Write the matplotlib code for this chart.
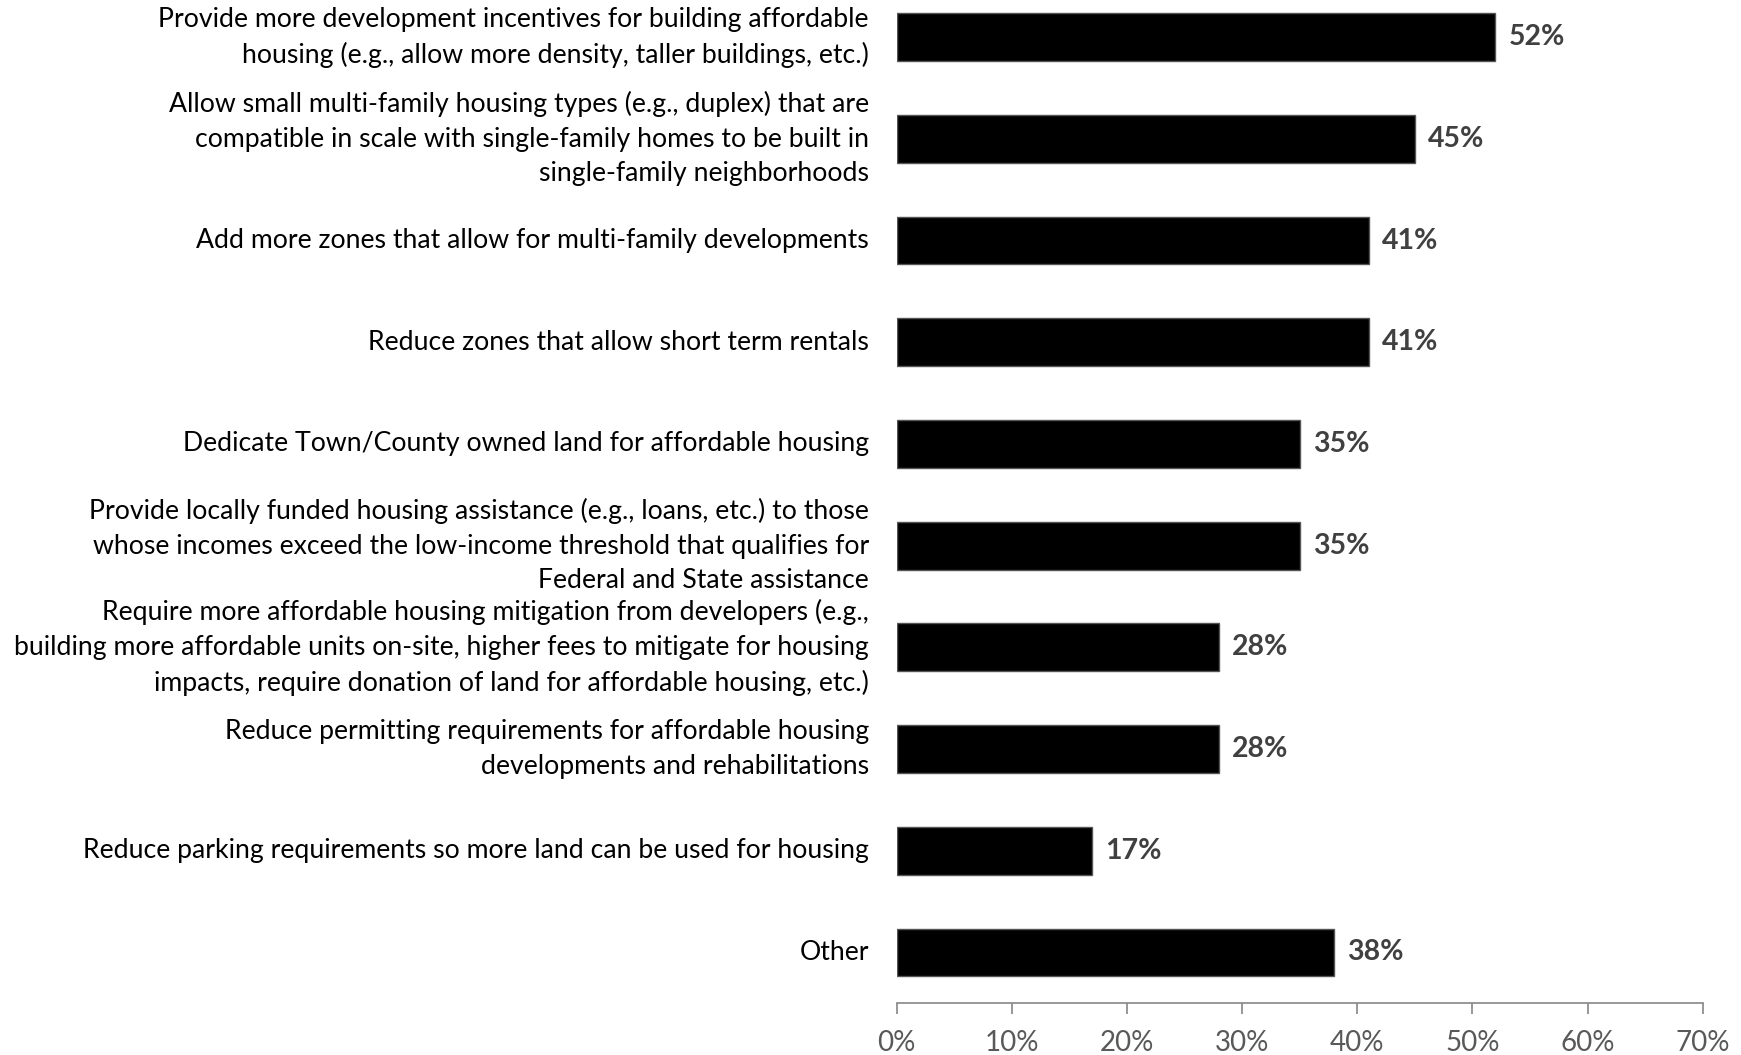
import matplotlib
matplotlib.use('Agg')
import matplotlib.pyplot as plt
from matplotlib.ticker import MultipleLocator, FuncFormatter

plt.rcParams['font.family'] = ['Lato', 'DejaVu Sans']

# survey answers, top to bottom
categories = [
    "Provide more development incentives for building affordable\nhousing (e.g., allow more density, taller buildings, etc.)",
    "Allow small multi-family housing types (e.g., duplex) that are\ncompatible in scale with single-family homes to be built in\nsingle-family neighborhoods",
    "Add more zones that allow for multi-family developments",
    "Reduce zones that allow short term rentals",
    "Dedicate Town/County owned land for affordable housing",
    "Provide locally funded housing assistance (e.g., loans, etc.) to those\nwhose incomes exceed the low-income threshold that qualifies for\nFederal and State assistance",
    "Require more affordable housing mitigation from developers (e.g.,\nbuilding more affordable units on-site, higher fees to mitigate for housing\nimpacts, require donation of land for affordable housing, etc.)",
    "Reduce permitting requirements for affordable housing\ndevelopments and rehabilitations",
    "Reduce parking requirements so more land can be used for housing",
    "Other",
]
values = [52, 45, 41, 41, 35, 35, 28, 28, 17, 38]

fig = plt.figure(figsize=(17.41, 10.55), dpi=100)
ax = fig.add_axes([0.515, 0.049, 0.463, 0.964])

ypos = list(range(len(categories)))
ax.barh(ypos, values, height=0.47, color='black', edgecolor='#555555', linewidth=1)

for y, v in zip(ypos, values):
    ax.annotate(f"{v}%", (v, y), xytext=(13, 0), textcoords='offset pixels',
                va='center', ha='left', fontsize=20.5, fontweight='bold', color='#404040')

ax.set_ylim(len(categories) - 0.5, -0.5)
ax.set_xlim(0, 70)
ax.set_yticks(ypos)
ax.set_yticklabels(categories, fontsize=19.2, color='black', linespacing=1.48)
ax.tick_params(axis='y', length=0, pad=20)
for lbl in ax.get_yticklabels():
    lbl.set_verticalalignment('center')

ax.xaxis.set_major_locator(MultipleLocator(10))
ax.xaxis.set_major_formatter(FuncFormatter(lambda x, p: f"{x:.0f}%"))
ax.tick_params(axis='x', direction='out', length=8, width=1.2, color='#868686',
               labelsize=20, labelcolor='#595959', pad=11)

for s in ['top', 'right', 'left']:
    ax.spines[s].set_visible(False)
ax.spines['bottom'].set_color('#868686')
ax.spines['bottom'].set_linewidth(1.2)

fig.savefig('out.png', dpi=100)
